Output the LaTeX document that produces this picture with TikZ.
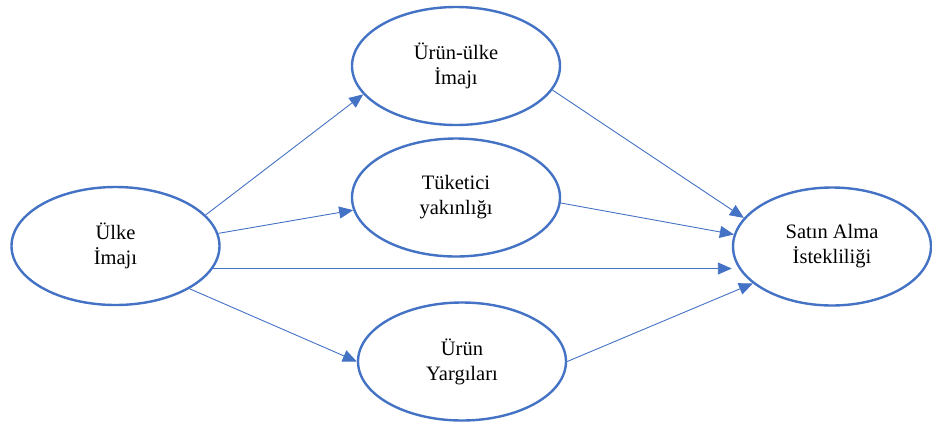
\documentclass[tikz,border=0pt]{standalone}
\usepackage{fontspec}
\setmainfont{Liberation Serif}
\usetikzlibrary{arrows.meta,shapes.geometric}
\definecolor{obl}{HTML}{4472C4}
\tikzset{
  oval/.style={ellipse, draw=obl, line width=2.4pt, fill=white, inner sep=0pt,
    minimum width=208pt, minimum height=118pt, align=center,
    font=\fontsize{20.5}{25}\selectfont},
  link/.style={draw=obl, line width=0.9pt, -{Triangle[length=14pt,width=12pt]}}
}
\begin{document}
\begin{tikzpicture}[x=1pt,y=-1pt]
\useasboundingbox (0,0) rectangle (932,426);
\node[oval] (U) at (115.5,246) {Ülke\\İmajı};
\node[oval] (UU) at (456,66) {Ürün-ülke\\İmajı};
\node[oval] (T) at (456,197.5) {Tüketici\\yakınlığı};
\node[oval] (Y) at (462,361.5) {Ürün\\Yargıları};
\node[oval, minimum width=198pt] (S) at (832,246.5) {Satın Alma\\İstekliliği};
\draw[link] (U.19.6) -- (UU.197.5);
\draw[link] (U.7.4) -- (T.187.5);
\draw[link] (U.-13.3) -- (U.-13.3 -| S.west);
\draw[link] (U.-30.1) -- (Y.180);
\draw[link] (UU.-14.9) -- (S.162);
\draw[link] (T.-3.5) -- (S.173.4);
\draw[link] (Y.0) -- (S.205.8);
\end{tikzpicture}
\end{document}
